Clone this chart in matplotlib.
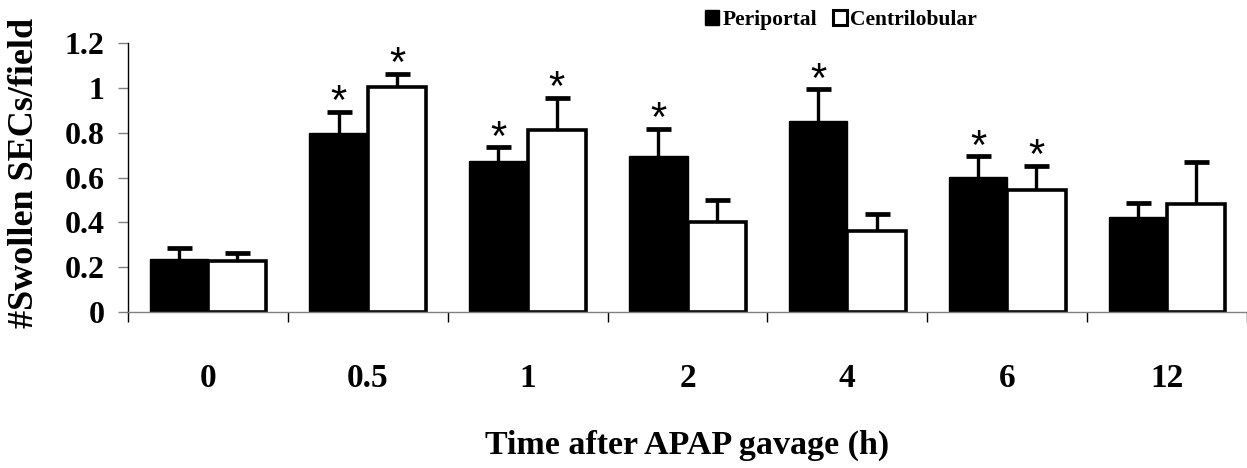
import matplotlib
matplotlib.use("Agg")
import matplotlib.pyplot as plt
from matplotlib.patches import Rectangle
import numpy as np

categories = ["0", "0.5", "1", "2", "4", "6", "12"]
periportal = [0.235, 0.80, 0.674, 0.696, 0.854, 0.604, 0.425]
periportal_err = [0.052, 0.094, 0.061, 0.120, 0.140, 0.091, 0.063]
centrilobular = [0.228, 1.005, 0.815, 0.402, 0.362, 0.544, 0.482]
centrilobular_err = [0.035, 0.060, 0.140, 0.098, 0.074, 0.108, 0.190]
periportal_sig = [False, True, True, True, True, True, False]
centrilobular_sig = [False, True, True, False, False, True, False]
yticks = [0, 0.2, 0.4, 0.6, 0.8, 1, 1.2]
ytick_labels = ["0", "0.2", "0.4", "0.6", "0.8", "1", "1.2"]

serif = "Liberation Serif"

W, H = 1247, 468
fig = plt.figure(figsize=(W / 100, H / 100), dpi=100)
ax = fig.add_axes([128 / W, 1 - 312 / H, 1 - 128 / W, (312 - 43.3) / H])

x = np.arange(len(categories))
bw = 0.365
gray = "#808080"

ax.bar(x, periportal, width=-bw, align="edge", color="black",
       edgecolor="black", linewidth=1, zorder=2)
ax.bar(x, centrilobular, width=bw, align="edge", color="white",
       edgecolor="black", linewidth=2.6, zorder=2)

pc = x - bw / 2
cc = x + bw / 2
for xs, vals, errs in [(pc, periportal, periportal_err), (cc, centrilobular, centrilobular_err)]:
    _, caps, _ = ax.errorbar(xs, vals, yerr=[np.zeros(len(x)), errs], fmt="none",
                             ecolor="black", elinewidth=2.4, capsize=9, capthick=3.4,
                             zorder=3)
    caps[0].set_visible(False)

def star(xc, top):
    ax.annotate("*", xy=(xc, top), xytext=(0, -8), textcoords="offset points",
                ha="center", va="bottom", fontsize=30,
                family="Liberation Sans", color="black", zorder=4)

for i in range(len(x)):
    if periportal_sig[i]:
        star(pc[i], periportal[i] + periportal_err[i])
    if centrilobular_sig[i]:
        star(cc[i], centrilobular[i] + centrilobular_err[i])

ax.set_xlim(-0.5, 6.5)
ax.set_ylim(0, 1.2)
ax.set_yticks(yticks)
ax.set_yticklabels(ytick_labels, fontsize=23, fontweight="bold", family=serif)
ax.set_xticks(x)
ax.set_xticklabels(categories, fontsize=24, fontweight="bold", family=serif)
ax.set_xticks(np.arange(-0.5, 7.0, 1.0), minor=True)
ax.tick_params(axis="x", which="major", length=0, pad=37)
ax.tick_params(axis="x", which="minor", length=7, width=1, color="black", direction="out")
ax.tick_params(axis="y", length=7, width=1, color=gray, direction="out", pad=10)

for s in ["top", "right"]:
    ax.spines[s].set_visible(False)
ax.spines["bottom"].set_color(gray)
ax.spines["left"].set_color("black")
ax.spines["bottom"].set_linewidth(1)
ax.spines["left"].set_linewidth(1)

ax.set_xlabel("Time after APAP gavage (h)", fontsize=24.5, fontweight="bold", family=serif)
ax.xaxis.set_label_coords(0.5, -0.44)
ax.set_ylabel("#Swollen SECs/field", fontsize=26, fontweight="bold", family=serif)
ax.yaxis.set_label_coords(-0.078, 0.517)

handles = [Rectangle((0, 0), 1, 1, facecolor="black", edgecolor="black", linewidth=1),
           Rectangle((0, 0), 1, 1, facecolor="white", edgecolor="black", linewidth=2.2)]
fig.legend(handles, ["Periportal", "Centrilobular"], loc="upper left",
           bbox_to_anchor=(705 / W, 1 - 10 / H), ncol=2, frameon=False,
           prop={"family": serif, "weight": "bold", "size": 15.5},
           handlelength=0.65, handleheight=0.65, handletextpad=0.15,
           columnspacing=0.75, borderpad=0, borderaxespad=0)

fig.savefig("out.png", dpi=100)
